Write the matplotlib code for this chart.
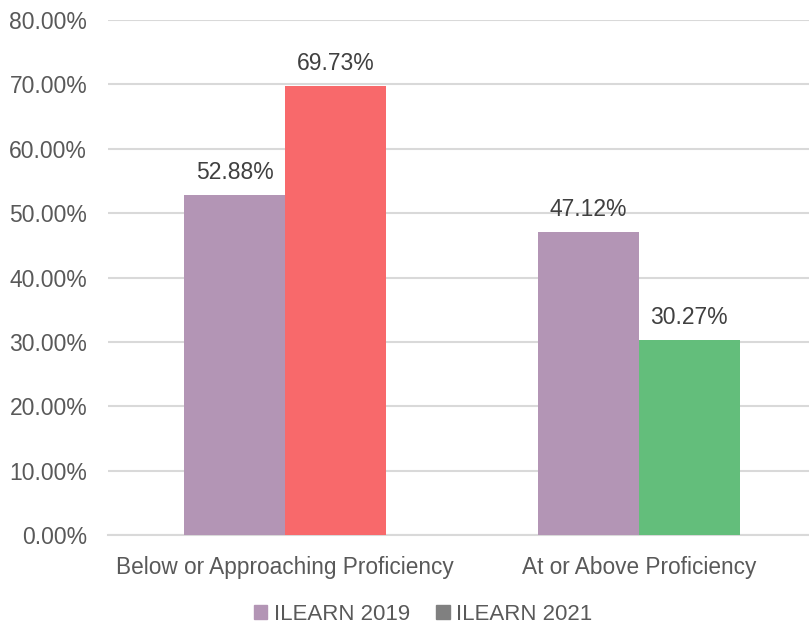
import matplotlib.pyplot as plt
import numpy as np
from matplotlib.patches import Patch

categories = ['Below or Approaching Proficiency', 'At or Above Proficiency']
series_names = ['ILEARN 2019', 'ILEARN 2021']
values_2019 = [52.88, 47.12]
values_2021 = [69.73, 30.27]
colors_2021 = ['#F8696B', '#63BE7B']
color_2019 = '#B395B5'

plt.rcParams['font.family'] = ['Liberation Sans', 'DejaVu Sans']
text_color = '#595959'

fig = plt.figure(figsize=(8.09, 6.27), dpi=100)
ax = fig.add_axes([0.1335, 0.1467, 0.875, 0.8213])

x = np.arange(len(categories))
w = 0.285
b1 = ax.bar(x - w / 2, values_2019, w, color=color_2019, label=series_names[0], zorder=3)
b2 = ax.bar(x + w / 2, values_2021, w, color=colors_2021, label=series_names[1], zorder=3)

for bars, vals in ((b1, values_2019), (b2, values_2021)):
    for bar, v in zip(bars, vals):
        ax.annotate(f'{v:.2f}%', (bar.get_x() + bar.get_width() / 2, v),
                    xytext=(0, 8), textcoords='offset points',
                    ha='center', va='bottom', fontsize=16.5, color='#404040')

ax.set_ylim(0, 80)
ax.set_xlim(-0.5, 1.5)
ax.set_yticks(range(0, 81, 10))
ax.set_yticklabels([f'{t:.2f}%' for t in range(0, 81, 10)], fontsize=16.5)
ax.set_xticks(x)
ax.set_xticklabels(categories, fontsize=16.3)
ax.tick_params(axis='both', length=0, colors=text_color)
ax.tick_params(axis='y', pad=15)
ax.tick_params(axis='x', pad=15)
ax.grid(axis='y', color='#D9D9D9', linewidth=1.5, zorder=0)
for s in ['top', 'right', 'left']:
    ax.spines[s].set_visible(False)
ax.spines['bottom'].set_color('#D9D9D9')
ax.spines['bottom'].set_linewidth(1.5)

handles = [Patch(color=color_2019), Patch(color='#808080')]
leg = fig.legend(handles, series_names, loc='center', bbox_to_anchor=(0.523, 0.02),
                 ncol=2, frameon=False, fontsize=16, handlelength=0.6, handleheight=0.6,
                 handletextpad=0.3, columnspacing=1.2)
for t in leg.get_texts():
    t.set_color(text_color)

fig.savefig('out.png', dpi=100)
